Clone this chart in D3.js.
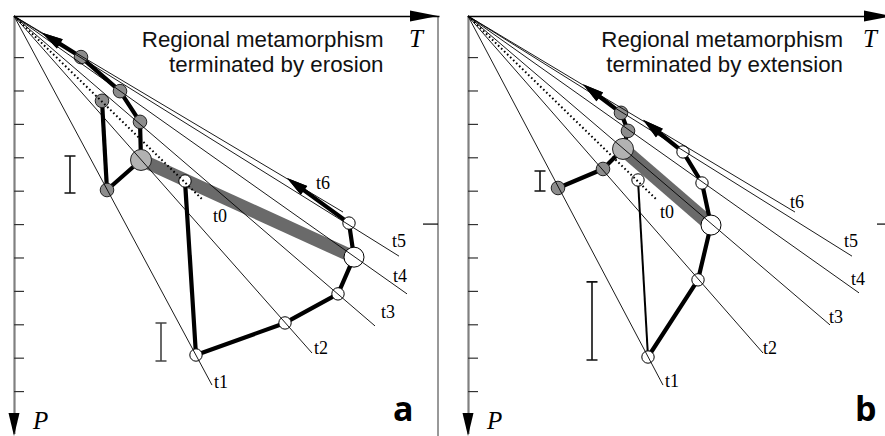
<!DOCTYPE html>
<html><head><meta charset="utf-8">
<script src="https://cdn.jsdelivr.net/npm/d3@7"></script>
<style>body{margin:0;background:#fff} svg{display:block}</style>
</head><body>
<svg id="c" width="885" height="436"></svg>
<script>
// ---------------- DATA ----------------
const stepNames = ["t0","t1","t2","t3","t4","t5","t6"];
const pTicks = [1.23,2.23,3.23,4.23,5.23,6.23,7.23,8.23,9.23,10.23,11.23];

// geotherm end points (T, P)
const geoEndA_T = [378, 396, 596, 722, 786, 770, 658];
const geoEndA_P = [5.51, 11.05, 10.09, 9.28, 8.32, 7.19, 5.87];
const geoEndB_T = [376, 390, 590, 724, 782, 768, 654];
const geoEndB_P = [5.48, 11.05, 10.09, 9.25, 8.29, 7.19, 5.87];

// P-T paths, one value per step t0..t6 (t6 = arrow tip)
const hotA_T = [342, 364, 542, 648, 680, 670, 546];
const hotA_P = [4.94, 10.15, 9.19, 8.32, 7.22, 6.20, 4.85];
const coolA_T = [176, 186, 254, 252, 212, 134, 56];
const coolA_P = [2.54, 5.21, 4.31, 3.17, 2.25, 1.23, 0.50];
const hotB_T = [340, 360, 460, 486, 468, 430, 350];
const hotB_P = [4.91, 10.21, 7.90, 6.26, 5.00, 4.07, 3.11];
const coolB_T = [null, 180, 270, 310, 320, 306, 230];
const coolB_P = [null, 5.15, 4.58, 3.98, 3.44, 2.90, 2.04];
const peakIndex = {hotA: 4, coolA: 2, hotB: 3, coolB: 3};

// uncertainty bars: T, Pmin, Pmax
const errA_T = [112, 294], errA_P0 = [4.19, 9.19], errA_P1 = [5.30, 10.33];
const errB_T = [144, 248], errB_P0 = [4.64, 7.96], errB_P1 = [5.24, 10.30];

const titlesA = ["Regional metamorphism", "terminated by erosion"];
const titlesB = ["Regional metamorphism", "terminated by extension"];

// ---------------- LAYOUT ----------------
const svg = d3.select("#c");
const x = d3.scaleLinear().domain([0, 850]).range([0, 425]);
const y = d3.scaleLinear().domain([0, 12.5]).range([0, 417.5]);

const labelOffA = [[10,22],[2,3],[2,1],[6,-8],[-14,-12],[-7,-9],[-27,-23]];
const labelOffB = [[4,19],[2,2],[0,1],[-1,-2],[-8,-8],[-8,-9],[-5,-4]];

function arrowHead(g, tip, from, L, w) {
  const dx = tip[0]-from[0], dy = tip[1]-from[1];
  const len = Math.hypot(dx, dy), ux = dx/len, uy = dy/len;
  const bx = tip[0]-ux*L, by = tip[1]-uy*L;
  const nx = -uy, ny = ux;
  g.append("path")
    .attr("d", `M${tip[0]},${tip[1]}L${bx+nx*w},${by+ny*w}L${bx-nx*w},${by-ny*w}Z`)
    .attr("fill", "#000");
  return [tip[0]-ux*L*0.6, tip[1]-uy*L*0.6];
}

function drawPanel(cfg) {
  const g = svg.append("g").attr("transform", `translate(${cfg.ox},16)`);

  // frame at right with tick
  g.append("line").attr("x1", 424).attr("x2", 424).attr("y1", 0).attr("y2", 420)
    .attr("stroke", "#333").attr("stroke-width", 1);
  g.append("line").attr("x1", 409).attr("x2", 424).attr("y1", y(6.23)).attr("y2", y(6.23))
    .attr("stroke", "#000").attr("stroke-width", 1.2);

  // T axis
  g.append("g").call(d3.axisBottom(x).tickValues([]).tickSizeOuter(0))
    .select(".domain").attr("stroke", "#000").attr("stroke-width", 1.4);
  g.append("path").attr("d", "M424,0L396,-5.5L396,5.5Z").attr("fill", "#000");
  g.append("text").attr("x", 395).attr("y", 31).text("T")
    .attr("font-family", "Liberation Serif").attr("font-style", "italic").attr("font-size", 25);

  // P axis
  const pa = g.append("g").call(d3.axisRight(y).tickValues(pTicks).tickSize(10).tickSizeOuter(0).tickFormat(""));
  pa.select(".domain").attr("stroke", "#808080").attr("stroke-width", 2.2);
  pa.selectAll(".tick line").attr("stroke", "#333").attr("stroke-width", 1.2);
  g.append("path").attr("d", "M0,420L-5.5,397L5.5,397Z").attr("fill", "#000");
  g.append("text").attr("x", 19).attr("y", 413).text("P")
    .attr("font-family", "Liberation Serif").attr("font-style", "italic").attr("font-size", 25);

  // title
  cfg.titles.forEach((t, i) => {
    g.append("text").attr("x", cfg.titleX).attr("y", 30.5 + i*25).attr("text-anchor", "end")
      .attr("font-family", "Liberation Sans").attr("font-size", 22.3).attr("fill", "#111").text(t);
  });
  g.append("text").attr("x", cfg.letterX).attr("y", 405).text(cfg.letter)
    .attr("font-family", "Open Sans").attr("font-weight", "bold").attr("font-size", 34);

  const P = (T, Pv) => [x(T), y(Pv)];
  const hot = cfg.hotT.map((t, i) => t == null ? null : P(t, cfg.hotP[i]));
  const cool = cfg.coolT.map((t, i) => t == null ? null : P(t, cfg.coolP[i]));

  // grey band between peak points
  g.append("line")
    .attr("x1", cool[cfg.coolPeak][0]).attr("y1", cool[cfg.coolPeak][1])
    .attr("x2", hot[cfg.hotPeak][0]).attr("y2", hot[cfg.hotPeak][1])
    .attr("stroke", "#6a6a6a").attr("stroke-width", cfg.bandW);

  // paths
  const lineGen = d3.line();
  function drawPath(pts, firstThin) {
    const valid = pts.slice(0, 6).map((p, i) => [p, i]).filter(d => d[0]);
    if (pts[0]) {
      g.append("path").attr("d", lineGen([pts[0], pts[1]])).attr("fill", "none")
        .attr("stroke", "#000").attr("stroke-width", firstThin ? 2 : 4.2);
    }
    const end = arrowHead(g, pts[6], pts[5], 21, 5.5);
    g.append("path").attr("d", lineGen(pts.slice(1, 6).concat([end]))).attr("fill", "none")
      .attr("stroke", "#000").attr("stroke-width", 4.2).attr("stroke-linejoin", "round");
    return valid;
  }
  const coolPts = drawPath(cool, false);
  const hotPts = drawPath(hot, cfg.hotFirstThin);

  coolPts.forEach(([p, i]) => {
    const big = i === cfg.coolPeak;
    g.append("circle").attr("cx", p[0]).attr("cy", p[1]).attr("r", big ? 10.5 : 6.8)
      .attr("fill", big ? "#b2b2b2" : "#8c8c8c").attr("stroke", "#222").attr("stroke-width", 1);
  });
  hotPts.forEach(([p, i]) => {
    const big = i === cfg.hotPeak;
    g.append("circle").attr("cx", p[0]).attr("cy", p[1]).attr("r", big ? 10 : 6.2)
      .attr("fill", "#fff").attr("stroke", "#000").attr("stroke-width", 1);
  });

  // geotherms
  stepNames.forEach((name, i) => {
    const e = P(cfg.geoT[i], cfg.geoP[i]);
    const ln = g.append("line").attr("x1", 0).attr("y1", 0).attr("x2", e[0]).attr("y2", e[1])
      .attr("stroke", "#000");
    if (i === 0) ln.attr("stroke-width", 2).attr("stroke-dasharray", "1.6,2.6");
    else ln.attr("stroke-width", 0.9);
    const off = cfg.labelOff[i];
    g.append("text").attr("x", e[0] + off[0]).attr("y", e[1] + off[1]).text(name)
      .attr("font-family", "Liberation Serif").attr("font-size", 18);
  });
  arrowHead(g, cool[6], cool[5], 21, 5.5);
  arrowHead(g, hot[6], hot[5], 21, 5.5);

  // error bars
  cfg.errT.forEach((t, i) => {
    const xx = x(t), y0 = y(cfg.errP0[i]), y1 = y(cfg.errP1[i]);
    g.append("path").attr("d", `M${xx},${y0}V${y1}M${xx-5.5},${y0}H${xx+5.5}M${xx-5.5},${y1}H${xx+5.5}`)
      .attr("stroke", cfg.errCol[i]).attr("stroke-width", 1.6).attr("fill", "none");
  });
}

drawPanel({ox: 14, titles: titlesA, titleX: 369.5, letter: "a", letterX: 379,
  geoT: geoEndA_T, geoP: geoEndA_P, hotT: hotA_T, hotP: hotA_P, coolT: coolA_T, coolP: coolA_P,
  hotPeak: peakIndex.hotA, coolPeak: peakIndex.coolA, hotFirstThin: false, bandW: 13,
  labelOff: labelOffA, errT: errA_T, errP0: errA_P0, errP1: errA_P1, errCol: ["#111", "#444"]});
drawPanel({ox: 468, titles: titlesB, titleX: 375, letter: "b", letterX: 387,
  geoT: geoEndB_T, geoP: geoEndB_P, hotT: hotB_T, hotP: hotB_P, coolT: coolB_T, coolP: coolB_P,
  hotPeak: peakIndex.hotB, coolPeak: peakIndex.coolB, hotFirstThin: true, bandW: 14,
  labelOff: labelOffB, errT: errB_T, errP0: errB_P0, errP1: errB_P1, errCol: ["#111", "#111"]});
</script>
</body></html>
